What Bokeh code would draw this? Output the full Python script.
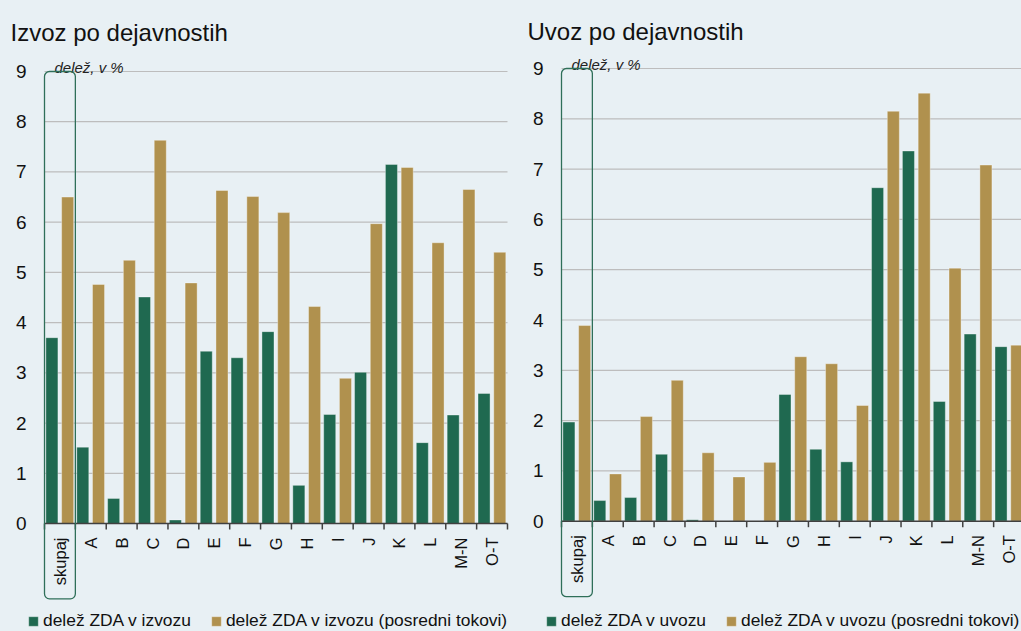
import math
from bokeh.plotting import figure
from bokeh.layouts import row
from bokeh.models import (ColumnDataSource, BoxAnnotation,
                          Legend, LegendItem, Range1d)
from bokeh.core.properties import value
from bokeh.transform import dodge
from bokeh.embed import file_html
from bokeh.resources import INLINE

# ---------------- data ----------------
categories = ["skupaj", "A", "B", "C", "D", "E", "F", "G", "H", "I", "J", "K", "L", "M-N", "O-T"]

izvoz_zda = [3.70, 1.52, 0.50, 4.51, 0.07, 3.43, 3.30, 3.82, 0.76, 2.17, 3.01, 7.15, 1.61, 2.16, 2.59]
izvoz_posredni = [6.50, 4.76, 5.24, 7.63, 4.79, 6.63, 6.51, 6.19, 4.32, 2.89, 5.97, 7.09, 5.59, 6.65, 5.40]

uvoz_zda = [1.97, 0.41, 0.47, 1.33, 0.03, 0.0, 0.0, 2.52, 1.43, 1.18, 6.63, 7.36, 2.38, 3.72, 3.47]
uvoz_posredni = [3.89, 0.94, 2.08, 2.80, 1.36, 0.88, 1.17, 3.27, 3.13, 2.30, 8.15, 8.51, 5.03, 7.08, 3.50]

y_ticks = [0, 1, 2, 3, 4, 5, 6, 7, 8, 9]
unit_text = "delež, v %"

# ---------------- style ----------------
BG = "#e8f0f4"
GREEN = "#1f6950"
GOLD = "#b0914e"
GRID = "#bdbdbd"
AXIS = "#404040"
TXT = "#111111"
FONT = "Liberation Sans"
BOX_BOTTOM = -1.5
HEIGHT = 631


def data_range(lo_px, hi_px, v_lo, v_hi, size):
    """Range so that v_lo sits at lo_px and v_hi at hi_px on a canvas of `size` px."""
    scale = (hi_px - lo_px) / (v_hi - v_lo)
    start = v_lo - lo_px / scale
    return Range1d(start, start + size / scale), scale


def make_panel(title, green_vals, gold_vals, green_label, gold_label,
               width, frame_left, frame_right, y0_px, y9_px, title_base_px, legend_x):
    n = len(categories)
    ymax = max(y_ticks)
    x_range, xs = data_range(frame_left, frame_right, -0.5, n - 0.5, width)
    y_range, ys = data_range(HEIGHT - y0_px, HEIGHT - y9_px, 0, ymax, HEIGHT)
    x_end = x_range.end

    p = figure(width=width, height=HEIGHT, x_range=x_range, y_range=y_range,
               output_backend="svg", toolbar_location=None,
               x_axis_location=None, y_axis_location=None,
               min_border=0, min_border_left=0, min_border_right=0,
               min_border_top=0, min_border_bottom=0,
               background_fill_color=BG, border_fill_color=BG,
               outline_line_color=None)
    p.xgrid.visible = False
    p.ygrid.visible = False

    x_last = min(n - 0.5, x_end)

    # horizontal grid lines
    gl = [t for t in y_ticks if t > 0]
    p.segment(x0=[-0.5] * len(gl), x1=[x_last] * len(gl), y0=gl, y1=gl,
              line_color=GRID, line_width=1.2)

    src = ColumnDataSource(dict(x=list(range(n)), g=green_vals, o=gold_vals, cat=categories))
    rg = p.vbar(x=dodge("x", -0.26), top="g", width=0.39, source=src,
                fill_color=GREEN, line_color="white", line_alpha=0.35, line_width=1)
    ro = p.vbar(x=dodge("x", 0.25), top="o", width=0.39, source=src,
                fill_color=GOLD, line_color="white", line_alpha=0.35, line_width=1)

    # x axis line + boundary ticks
    p.segment(x0=[-0.5], x1=[x_last], y0=[0], y1=[0], line_color=AXIS, line_width=1.5)
    bounds = [i - 0.5 for i in range(n + 1) if i - 0.5 <= x_end]
    tick_len = 6 / ys
    p.segment(x0=bounds, x1=bounds, y0=[0] * len(bounds), y1=[-tick_len] * len(bounds),
              line_color=AXIS, line_width=1.5)

    # category labels (rotated, reading upward)
    p.text(x="x", y=0, text="cat", source=src, angle=math.pi / 2,
           y_offset=14, text_align="right", text_baseline="middle",
           text_font=value(FONT), text_font_size="16.5px", text_color=TXT)

    # y tick labels
    p.text(x=[-0.5] * len(y_ticks), y=y_ticks, text=[str(t) for t in y_ticks],
           x_offset=-18, text_align="right", text_baseline="middle",
           text_font=value(FONT), text_font_size="19px", text_color=TXT)

    # title and unit
    p.text(x=[-0.5], y=[ymax], text=[title], x_offset=-34,
           y_offset=-(y9_px - title_base_px),
           text_align="left", text_baseline="alphabetic",
           text_font=value(FONT), text_font_size="24px", text_color=TXT)
    p.text(x=[-0.5], y=[ymax], text=[unit_text], x_offset=10, y_offset=-4,
           text_align="left", text_baseline="alphabetic",
           text_font=value(FONT), text_font_size="15px", text_font_style="italic",
           text_color="#222222")

    # highlight box around "skupaj"
    p.add_layout(BoxAnnotation(left=-0.5, right=0.5, top=ymax, bottom=BOX_BOTTOM,
                               fill_color=None, fill_alpha=0, line_color="#2f6f59",
                               line_alpha=1.0, line_width=1.3, border_radius=5))

    legend = Legend(items=[LegendItem(label=green_label, renderers=[rg]),
                           LegendItem(label=gold_label, renderers=[ro])],
                    orientation="horizontal", location=(legend_x, 0),
                    background_fill_alpha=0, border_line_color=None,
                    padding=0, margin=0, spacing=19, label_standoff=4,
                    glyph_width=12, glyph_height=12,
                    label_text_font=FONT, label_text_font_size="17.4px",
                    label_text_color=TXT)
    p.add_layout(legend)
    return p


# pixel geometry (canvas pixels of each panel)
left = make_panel("Izvoz po dejavnostih", izvoz_zda, izvoz_posredni,
                  "delež ZDA v izvozu", "delež ZDA v izvozu (posredni tokovi)",
                  width=520, frame_left=44, frame_right=507,
                  y0_px=523, y9_px=71, title_base_px=31.5, legend_x=27)
right = make_panel("Uvoz po dejavnostih", uvoz_zda, uvoz_posredni,
                   "delež ZDA v uvozu", "delež ZDA v uvozu (posredni tokovi)",
                   width=501, frame_left=41, frame_right=504,
                   y0_px=520.7, y9_px=68, title_base_px=31, legend_x=25)

layout = row(left, right)
html = file_html(layout, INLINE)
html = html.replace("</head>", "<style>html,body{background:#e8f0f4;}</style></head>", 1)
open("out.html", "w").write(html)
